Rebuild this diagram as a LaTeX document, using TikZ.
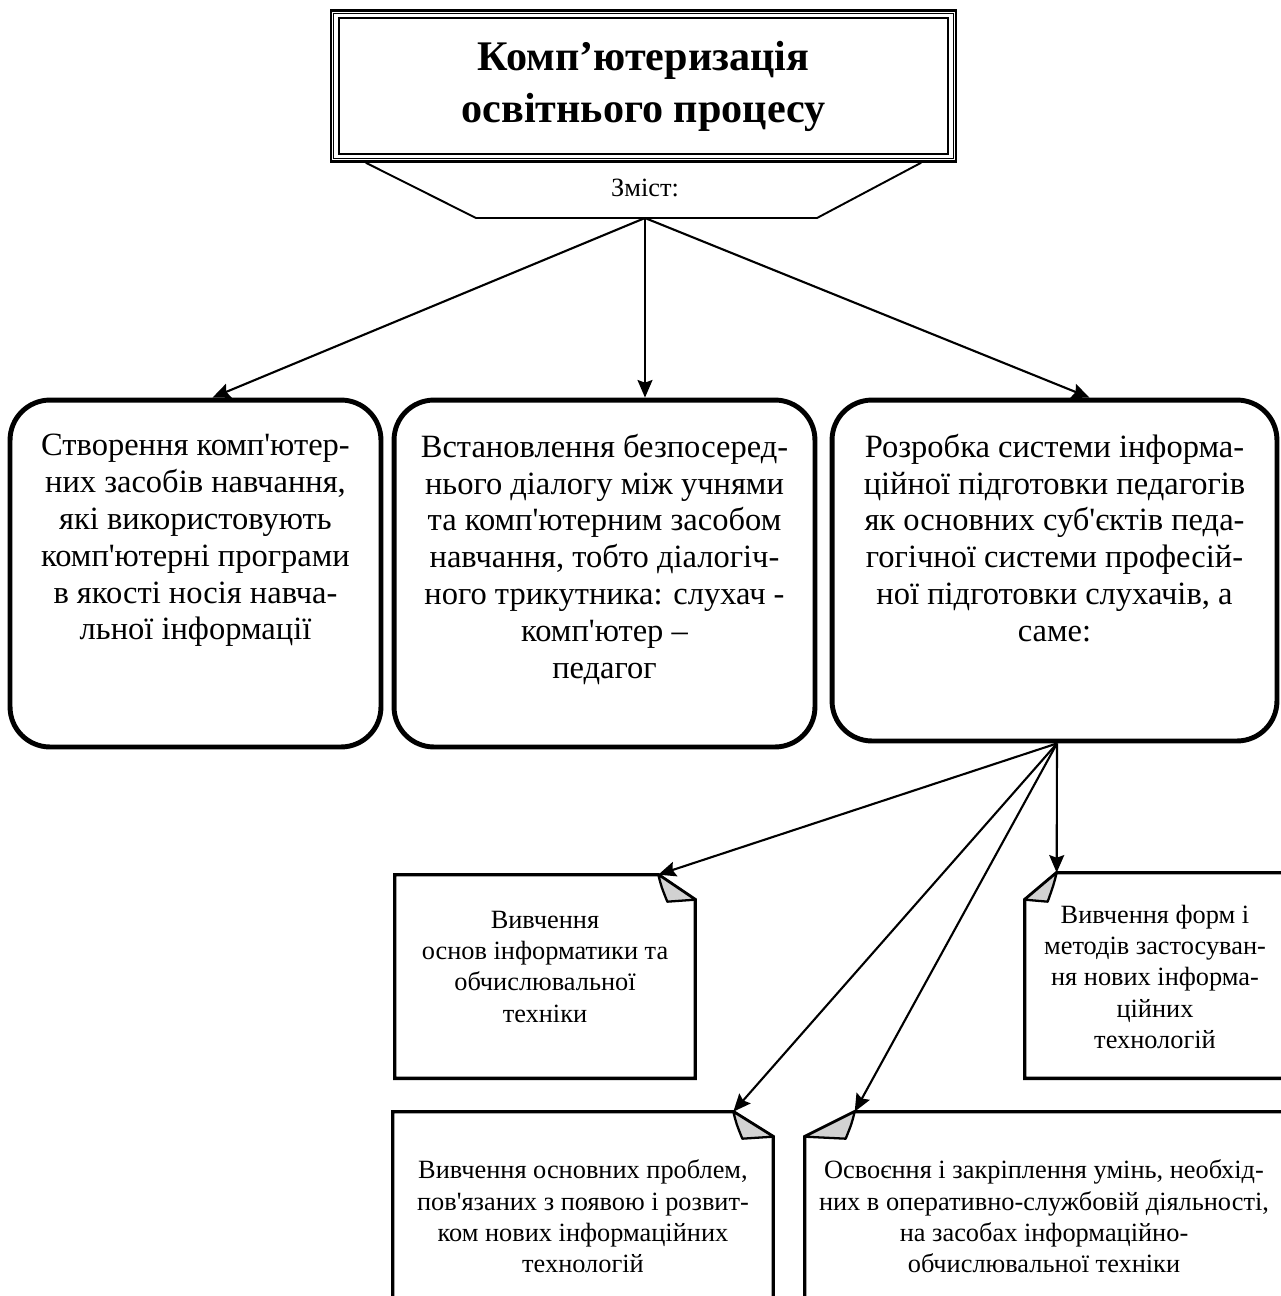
\documentclass[tikz,border=0pt]{standalone}
\usepackage{fontspec}
\newfontfamily\uafont{Liberation Serif}
\usetikzlibrary{arrows.meta,positioning,calc}
\tikzset{
  title frame/.style={draw,line width=1.4pt,minimum width=12.5cm,minimum height=3.02cm,inner sep=0pt,align=center,font=\uafont\bfseries\fontsize{24}{29.6}\selectfont},
  big box/.style={draw,line width=2.8pt,rounded corners=0.8cm,minimum height=6.94cm,inner sep=0pt},
  big text/.style={align=center,inner sep=0pt,font=\uafont\fontsize{18.5}{21}\selectfont},
  fold box/.style={inner sep=0pt},
  fold text/.style={align=center,inner sep=0pt,font=\uafont\fontsize{15}{17.8}\selectfont},
  fold line/.style={line width=1.9pt,line join=miter},
  fold flap/.style={fill=gray!35,line width=1.3pt,line join=round},
  link/.style={-{Stealth[length=10pt,width=8.5pt,inset=1.5pt]},line width=1.2pt},
  callout/.style={line width=1.1pt,line join=round}
}
% box with folded top corner, #2/#3 = size of the fold
\newcommand{\foldright}[3]{%
  \coordinate (#1-tip) at ($(#1.north east)+(-#2,0)$);
  \draw[fold line] (#1.south west) -- (#1.north west) -- (#1-tip) -- ($(#1.north east)+(0,#3)$) -- (#1.south east) -- cycle;
  \filldraw[fold flap] (#1-tip) .. controls +(3,12) .. ($(#1-tip)+(9,#3+2)$) -- ($(#1.north east)+(0,#3)$) -- cycle;
}
\newcommand{\foldleft}[3]{%
  \coordinate (#1-tip) at ($(#1.north west)+(#2,0)$);
  \draw[fold line] (#1.south east) -- (#1.north east) -- (#1-tip) -- ($(#1.north west)+(0,#3)$) -- (#1.south west) -- cycle;
  \filldraw[fold flap] (#1-tip) .. controls +(-3,12) .. ($(#1-tip)+(-9,#3+2)$) -- ($(#1.north west)+(0,#3)$) -- cycle;
}

\begin{document}
\begin{tikzpicture}[x=0.02cm,y=-0.02cm]
  \useasboundingbox (0,0) rectangle (1281,1296);
  \clip (0,0) rectangle (1281,1296);

  % title
  \node[title frame] (title) at (643.5,86) {Комп’ютеризація\\освітнього процесу};
  \draw[line width=0.5pt] ($(title.south west)+(4,-4)$) rectangle ($(title.north east)+(-4,4)$);
  \draw[line width=1.1pt] ($(title.south west)+(9,-9)$) rectangle ($(title.north east)+(-9,9)$);
  \coordinate (hub) at (645,218);
  \draw[callout] ($(title.south west)+(36,0)$) -- ($(hub)+(-169,0)$) -- ($(hub)+(172,0)$) -- ($(title.south east)+(-36,0)$);
  \node[font=\uafont\fontsize{15}{18}\selectfont] (content) at (645,188) {Зміст:};

  % three directions
  \node[big box,minimum width=7.42cm] (create) at (195.5,573.5) {};
  \node[big box,minimum width=8.42cm] (dialog) at (604.5,573.5) {};
  \node[big box,minimum width=8.9cm,minimum height=6.82cm] (train) at (1054.5,570.5) {};
  \node[big text,below=0.72cm of create.north] (createtxt) {Створення комп'ютер-\\них засобів навчання,\\які використовують\\комп'ютерні програми\\в якості носія навча-\\льної інформації};
  \node[big text,below=0.72cm of dialog.north] (dialogtxt) {Встановлення безпосеред-\\нього діалогу між учнями\\та комп'ютерним засобом\\навчання, тобто діалогіч-\\ного трикутника: слухач -\\комп'ютер –\\педагог};
  \node[big text,below=0.72cm of train.north] (traintxt) {Розробка системи інформа-\\ційної підготовки педагогів\\як основних суб'єктів педа-\\гогічної системи професій-\\ної підготовки слухачів, а\\саме:};
  \draw[link] (hub) -- ($(create.north)+(17,0)$);
  \draw[link] (hub) -- (hub |- dialog.north);
  \draw[link] (hub) -- ($(train.north)+(35,0)$);

  % parts of the training
  \node[fold box,minimum width=6cm,minimum height=4.06cm] (basics) at (545,976.5) {};
  \node[fold box,minimum width=5.2cm,minimum height=4.1cm] (methods) at (1155,975.5) {};
  \node[fold box,minimum width=7.6cm,minimum height=4.4cm] (problems) at (583,1222) {};
  \node[fold box,minimum width=9.56cm,minimum height=4.4cm] (skills) at (1044,1222) {};
  \foldright{basics}{37}{25}
  \foldleft{methods}{32}{27}
  \foldright{problems}{40}{25}
  \foldleft{skills}{50}{25}
  \node[fold text,below=0.72cm of basics.north] (basicstxt) {Вивчення\\основ інформатики та\\обчислювальної\\техніки};
  \node[fold text,below=0.64cm of methods.north] (methodstxt) {Вивчення форм і\\методів застосуван-\\ня нових інформа-\\ційних\\технологій};
  \node[fold text,below=0.96cm of problems.north] (problemstxt) {Вивчення основних проблем,\\пов'язаних з появою і розвит-\\ком нових інформаційних\\технологій};
  \node[fold text,below=0.96cm of skills.north] (skillstxt) {Освоєння і закріплення умінь, необхід-\\них в оперативно-службовій діяльності,\\на засобах інформаційно-\\обчислювальної техніки};
  \coordinate (fan) at ($(train.south)+(2.5,0)$);
  \draw[link] (fan) -- (basics-tip);
  \draw[link] (fan) -- (problems-tip);
  \draw[link] (fan) -- (skills-tip);
  \draw[link] (fan) -- (methods-tip);
\end{tikzpicture}
\end{document}
